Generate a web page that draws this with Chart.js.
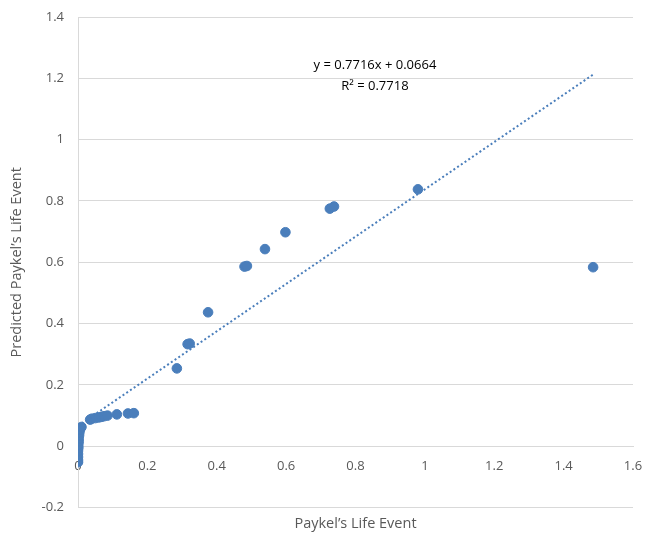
<!DOCTYPE html>
<html>
<head>
<meta charset="utf-8">
<script src="https://cdn.jsdelivr.net/npm/chart.js@4.4.0/dist/chart.umd.min.js"></script>
<style>
  html, body { margin: 0; padding: 0; background: #fff; }
  #wrap { width: 646px; height: 533px; }
</style>
</head>
<body>
<div id="wrap"><canvas id="chart"></canvas></div>
<script>
const obsX = [0, 0, 0, 0, 0, 0.001, 0.001, 0.002, 0.002, 0.003, 0.004, 0.006, 0.01,
  0.035, 0.04, 0.05, 0.06, 0.068, 0.075, 0.085, 0.112, 0.144, 0.161,
  0.285, 0.316, 0.322, 0.375, 0.48, 0.487, 0.539, 0.598, 0.726, 0.738, 0.98, 1.485];
const obsY = [-0.052, -0.045, -0.035, -0.025, -0.015, -0.005, 0.005, 0.015, 0.025, 0.035, 0.045, 0.055, 0.063,
  0.087, 0.09, 0.092, 0.094, 0.096, 0.098, 0.1, 0.104, 0.107, 0.108,
  0.254, 0.333, 0.335, 0.437, 0.586, 0.588, 0.643, 0.698, 0.775, 0.782, 0.838, 0.584];

// Linear trendline end points (y = 0.7716x + 0.0664)
const trendX = [0, 1.485];
const trendY = [0.0664, 1.2122];
const trendLabel = ['y = 0.7716x + 0.0664', 'R² = 0.7718'];

const xTicks = [0, 0.2, 0.4, 0.6, 0.8, 1, 1.2, 1.4, 1.6];
const yTicks = [-0.2, 0, 0.2, 0.4, 0.6, 0.8, 1, 1.2, 1.4];

const BLUE = '#4a7ebb';
const GRID = '#d9d9d9';
const TEXT = '#595959';
const FONT = 'Open Sans';

const fmt = (v) => String(Math.round(v * 10) / 10);

// labels may overhang; layout.padding alone decides the plot box
const noOverhang = (s) => {
  s.paddingTop = 0; s.paddingBottom = 0; s.paddingLeft = 0; s.paddingRight = 0;
};

// equation label placed in data space near the top of the trendline
const eqLabel = {
  id: 'eqLabel',
  afterDatasetsDraw(chart) {
    const { ctx, scales: { x, y } } = chart;
    ctx.save();
    ctx.fillStyle = '#000';
    ctx.font = '13px "' + FONT + '"';
    ctx.textAlign = 'center';
    ctx.textBaseline = 'middle';
    ctx.fillText(trendLabel[0], x.getPixelForValue(0.856), y.getPixelForValue(1.241));
    ctx.fillText(trendLabel[1], x.getPixelForValue(0.856), y.getPixelForValue(1.173));
    ctx.restore();
  }
};

new Chart(document.getElementById('chart'), {
  type: 'scatter',
  data: {
    datasets: [
      {
        label: 'Linear',
        type: 'line',
        data: trendX.map((v, i) => ({ x: v, y: trendY[i] })),
        borderColor: BLUE,
        borderWidth: 2,
        borderDash: [2, 2.5],
        pointRadius: 0,
        fill: false,
        order: 0,
      },
      {
        label: 'Predicted',
        data: obsX.map((v, i) => ({ x: v, y: obsY[i] })),
        backgroundColor: BLUE,
        borderColor: BLUE,
        pointRadius: 4.8,
        pointHoverRadius: 4.8,
        order: 1,
      },
    ],
  },
  options: {
    responsive: true,
    maintainAspectRatio: false,
    animation: false,
    layout: { padding: { top: 17, right: 13, left: 0, bottom: 0 } },
    plugins: {
      legend: { display: false },
      tooltip: { enabled: false },
      title: {
        display: true,
        position: 'bottom',
        fullSize: false,
        text: 'Paykel’s Life Event',
        color: TEXT,
        font: { family: FONT, size: 14.5, weight: 'normal' },
        padding: { top: 8, bottom: 0 },
      },
    },
    scales: {
      x: {
        type: 'linear',
        position: { y: 0 },
        min: 0,
        max: 1.6,
        afterBuildTicks: (s) => { s.ticks = xTicks.map(v => ({ value: v })); },
        afterFit: noOverhang,
        grid: { display: false, drawTicks: false },
        border: { display: true, color: GRID, width: 1 },
        ticks: {
          color: TEXT,
          padding: 12,
          maxRotation: 0,
          font: { family: FONT, size: 13 },
          callback: (v) => fmt(v),
        },
      },
      y: {
        type: 'linear',
        min: -0.2,
        max: 1.4,
        afterBuildTicks: (s) => { s.ticks = yTicks.map(v => ({ value: v })); },
        afterFit: (s) => { s.width = 78; noOverhang(s); },
        grid: { color: GRID, drawTicks: false },
        border: { display: true, color: GRID, width: 1 },
        ticks: {
          color: TEXT,
          padding: 14,
          font: { family: FONT, size: 13 },
          callback: (v) => fmt(v),
        },
        title: {
          display: true,
          text: 'Predicted Paykel’s Life Event',
          color: TEXT,
          font: { family: FONT, size: 14.5 },
          padding: { top: 8, bottom: 4 },
        },
      },
    },
  },
  plugins: [eqLabel],
});
</script>
</body>
</html>
